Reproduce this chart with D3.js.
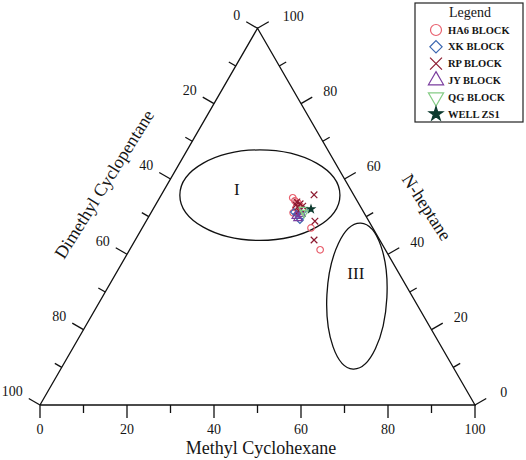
<!DOCTYPE html>
<html>
<head>
<meta charset="utf-8">
<script src="https://cdn.jsdelivr.net/npm/d3@7"></script>
<style>
  body { margin: 0; background: #fff; }
  text { font-family: "Liberation Serif", "Times New Roman", serif; fill: #151515; }
</style>
</head>
<body>
<svg id="chart" width="526" height="460"></svg>
<script>
// each point: [Methyl Cyclohexane, N-heptane, Dimethyl Cyclopentane]
const ha6 = [[30.6,55.0,14.4],[31.5,54.2,14.3],[32.5,53.6,13.9],[33.4,52.8,13.8],[32.7,52.3,15.0],
             [34.4,51.8,13.8],[33.9,51.2,14.9],[32.7,51.0,16.3],[38.8,47.0,14.2],[43.8,41.2,15.0]];
const xk  = [[32.8,51.2,16.0],[35.2,49.1,15.7],[35.1,50.2,14.7],[33.7,50.7,15.6],[34.8,51.8,13.4]];
const rp  = [[35.1,55.8,9.1],[38.8,48.8,12.4],[41.1,43.8,15.1],[32.1,53.9,14.0],[33.1,53.4,13.5],
             [33.0,52.6,14.4],[34.0,52.0,14.0],[32.3,53.1,14.6],[34.0,52.8,13.2],[33.8,51.5,14.7]];
const jy  = [[34.5,49.6,15.9],[34.6,50.7,14.7],[33.8,50.2,16.0]];
const qg  = [[35.2,51.0,13.8],[34.6,51.8,13.6]];
const zs1 = [[36.3,52.0,11.7]];

const seriesNames = ["HA6 BLOCK","XK BLOCK","RP BLOCK","JY BLOCK","QG BLOCK","WELL ZS1"];
const axisTitles = ["Methyl Cyclohexane","N-heptane","Dimethyl Cyclopentane"];
const tickValues = d3.range(0, 101, 10);
const tickLabels = [0, 20, 40, 60, 80, 100];

// regions: centre [MCH, nC7, DMCP], radii in axis units, rotation
const regions = [
  {name: "I",   c: [22.7,55.7,21.6], rx: 18.4, ry: 10.4, rot: 0, label: [16.6,57.3,26.1]},
  {name: "III", c: [58.4,28.9,12.7], rx: 6.9,  ry: 16.8, rot: 3, label: [55.1,35.0,9.9]}
];

const svg = d3.select("#chart");
const side = 435;
const x = d3.scaleLinear().domain([0, 100]).range([40, 40 + side]);
const y = d3.scaleLinear().domain([0, 100 * Math.sqrt(3) / 2]).range([405, 405 - side * Math.sqrt(3) / 2]);

function proj(p) {
  const s = p[0] + p[1] + p[2];
  const m = p[0] / s * 100, n = p[1] / s * 100;
  return [x(m + n / 2), y(n * Math.sqrt(3) / 2)];
}

const BL = proj([0,0,100]), BR = proj([100,0,0]), T = proj([0,100,0]);
svg.append("path")
  .attr("d", d3.line()([BL, BR, T, BL]))
  .attr("fill", "none").attr("stroke", "#111").attr("stroke-width", 1.3);

// ticks
const c30 = Math.cos(Math.PI / 6), s30 = 0.5;
const axes = [
  {pt: v => proj([v, 0, 100 - v]), dir: [0, 1]},
  {pt: v => proj([0, 100 - v, v]), dir: [-c30, -s30]},
  {pt: v => proj([100 - v, v, 0]), dir: [c30, -s30]}
];
const g = svg.append("g").attr("stroke", "#111").attr("stroke-width", 1.3);
axes.forEach((a, i) => {
  tickValues.forEach(v => {
    const p = a.pt(v), len = v % 20 === 0 ? 13 : 8;
    g.append("line").attr("x1", p[0]).attr("y1", p[1])
      .attr("x2", p[0] + a.dir[0] * len).attr("y2", p[1] + a.dir[1] * len);
  });
  tickLabels.forEach(v => {
    const p = a.pt(v), e = [p[0] + a.dir[0] * 13, p[1] + a.dir[1] * 13];
    const t = svg.append("text").text(v).style("font-size", "14px").attr("dy", "0.35em");
    if (i === 0) t.attr("x", p[0]).attr("y", p[1] + 24).attr("text-anchor", "middle");
    else if (i === 1) t.attr("x", e[0] - 6).attr("y", e[1] - 7).attr("text-anchor", "end");
    else t.attr("x", e[0] + (v % 100 === 0 ? 14 : 11)).attr("y", e[1] - 6).attr("text-anchor", "start");
  });
});

// axis titles
svg.append("text").text(axisTitles[0]).attr("x", 261).attr("y", 454)
  .attr("text-anchor", "middle").style("font-size", "18px");
svg.append("text").text(axisTitles[2]).attr("text-anchor", "middle").attr("dy", "0.35em")
  .attr("transform", "translate(104,184) rotate(-58)").style("font-size", "18px");
svg.append("text").text(axisTitles[1]).attr("text-anchor", "middle").attr("dy", "0.35em")
  .attr("transform", "translate(427,207) rotate(57)").style("font-size", "18px");

// regions
regions.forEach(r => {
  const c = proj(r.c);
  svg.append("ellipse").attr("cx", 0).attr("cy", 0)
    .attr("rx", x(r.rx) - x(0)).attr("ry", x(r.ry) - x(0))
    .attr("transform", `translate(${c[0]},${c[1]}) rotate(${r.rot})`)
    .attr("fill", "none").attr("stroke", "#111").attr("stroke-width", 1.3);
  const l = proj(r.label);
  svg.append("text").text(r.name).attr("x", l[0]).attr("y", l[1]).attr("dy", "0.35em")
    .attr("text-anchor", "middle").style("font-size", "17px");
});

// symbols
const styles = [
  {data: ha6, type: d3.symbolCircle, size: 34, lsize: 95, color: "#e8606e", fill: "none", rot: 0},
  {data: xk,  type: d3.symbolDiamond2 || d3.symbolDiamond, size: 30, lsize: 95, color: "#3a66b0", fill: "none", rot: 0},
  {data: rp,  type: d3.symbolTimes || d3.symbolCross, size: 30, lsize: 95, color: "#8c1a30", fill: "none", rot: 0},
  {data: jy,  type: d3.symbolTriangle, size: 30, lsize: 100, color: "#7a3d9e", fill: "none", rot: 0},
  {data: qg,  type: d3.symbolTriangle, size: 30, lsize: 100, color: "#86cc86", fill: "none", rot: 180},
  {data: zs1, type: d3.symbolStar, size: 16, lsize: 60, color: "#0c3a2e", fill: "#0c3a2e", rot: 0}
];
const pts = svg.append("g");
styles.forEach(st => {
  st.data.forEach(d => {
    const p = proj(d);
    pts.append("path").attr("d", d3.symbol().type(st.type).size(st.size)())
      .attr("transform", `translate(${p[0]},${p[1]}) rotate(${st.rot})`)
      .attr("fill", st.fill).attr("stroke", st.color).attr("stroke-width", 1.2);
  });
});

// legend
const lg = svg.append("g");
lg.append("rect").attr("x", 415).attr("y", 3).attr("width", 108).attr("height", 119)
  .attr("fill", "#fff").attr("stroke", "#222").attr("stroke-width", 1.2);
lg.append("text").text("Legend").attr("x", 470).attr("y", 17).attr("text-anchor", "middle")
  .style("font-size", "14px");
const rowY = d3.scaleLinear().domain([0, 5]).range([30, 114]);
styles.forEach((st, i) => {
  const yy = rowY(i);
  lg.append("path").attr("d", d3.symbol().type(st.type).size(st.lsize)())
    .attr("transform", `translate(436,${yy}) rotate(${st.rot})`)
    .attr("fill", st.fill).attr("stroke", st.color).attr("stroke-width", 1.2);
  lg.append("text").text(seriesNames[i]).attr("x", 448).attr("y", yy).attr("dy", "0.35em")
    .style("font-size", "10.5px").style("font-weight", "bold");
});
</script>
</body>
</html>
